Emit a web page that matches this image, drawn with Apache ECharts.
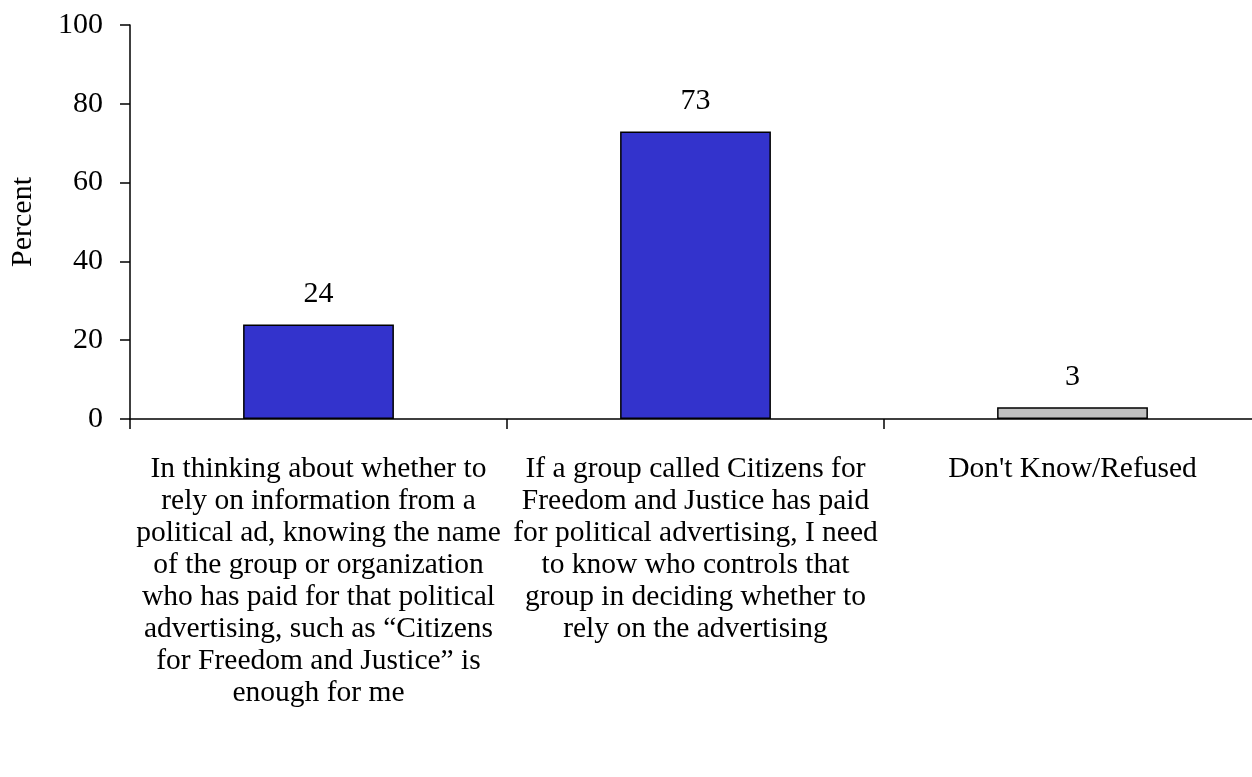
<!DOCTYPE html>
<html>
<head>
<meta charset="utf-8">
<title>Percent by response</title>
<script src="https://cdn.jsdelivr.net/npm/echarts@6/dist/echarts.min.js"></script>
<style>
  html, body { margin: 0; padding: 0; background: #ffffff; overflow: hidden; }
  /* the plot runs a little past the right edge of the window */
  #chart { width: 1262px; height: 777px; }
</style>
</head>
<body>
<div id="chart"></div>
<script>
// Response categories (line breaks as they wrap under the axis)
const categories = [
  "In thinking about whether to\nrely on information from a\npolitical ad, knowing the name\nof the group or organization\nwho has paid for that political\nadvertising, such as \u201cCitizens\nfor Freedom and Justice\u201d is\nenough for me",
  "If a group called Citizens for\nFreedom and Justice has paid\nfor political advertising, I need\nto know who controls that\ngroup in deciding whether to\nrely on the advertising",
  "Don't Know/Refused"
];

// Percent of respondents for each category
const percentValues = [24, 73, 3];

// Fill colour for each bar
const barColors = ["#3333CC", "#3333CC", "#C0C0C0"];

// Value axis ticks
const yTicks = [0, 20, 40, 60, 80, 100];

const fontFamily = '"Liberation Serif", "Times New Roman", serif';

const chart = echarts.init(document.getElementById('chart'), null, { renderer: 'canvas' });

chart.setOption({
  backgroundColor: '#ffffff',
  animation: false,
  textStyle: { fontFamily: fontFamily, color: '#000' },
  grid: { left: 130, right: 1, top: 25, bottom: 358, containLabel: false },
  xAxis: {
    type: 'category',
    data: categories,
    boundaryGap: true,
    axisLine: { show: true, lineStyle: { color: '#000', width: 1.5 } },
    axisTick: { show: true, length: 10, lineStyle: { color: '#000', width: 1.5 } },
    axisLabel: {
      interval: 0,
      margin: 34,
      fontFamily: fontFamily,
      fontSize: 29.5,
      lineHeight: 32,
      color: '#000',
      align: 'center',
      verticalAlign: 'top'
    },
    splitLine: { show: false }
  },
  yAxis: {
    type: 'value',
    min: yTicks[0],
    max: yTicks[yTicks.length - 1],
    interval: yTicks[1] - yTicks[0],
    name: 'Percent',
    nameLocation: 'middle',
    nameRotate: 90,
    nameGap: 92,
    nameTextStyle: { fontFamily: fontFamily, fontSize: 30, color: '#000' },
    axisLine: { show: true, lineStyle: { color: '#000', width: 1.5 } },
    axisTick: { show: true, length: 10, lineStyle: { color: '#000', width: 1.5 } },
    axisLabel: { margin: 27, fontFamily: fontFamily, fontSize: 30, color: '#000' },
    splitLine: { show: false }
  },
  series: [{
    type: 'bar',
    barWidth: '40%',
    data: percentValues.map((v, i) => ({
      value: v,
      itemStyle: { color: barColors[i], borderColor: '#000', borderWidth: 1.5 }
    })),
    label: {
      show: true,
      position: 'top',
      distance: 15,
      fontFamily: fontFamily,
      fontSize: 30,
      color: '#000'
    }
  }]
});
</script>
</body>
</html>
